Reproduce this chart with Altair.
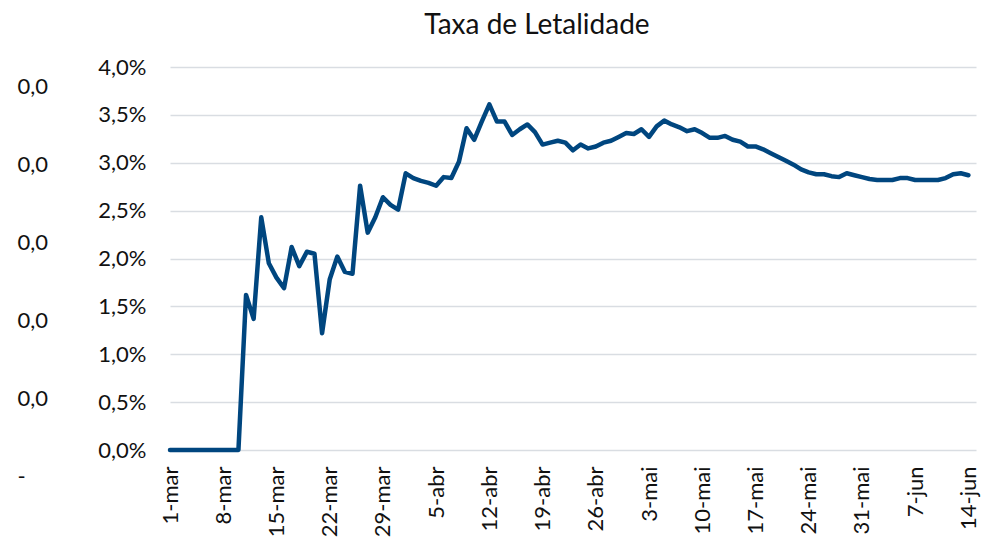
import altair as alt
import pandas as pd

# Daily data, 1-mar .. 14-jun
month_pt = {3: "mar", 4: "abr", 5: "mai", 6: "jun"}
dates = pd.date_range("2020-03-01", "2020-06-14", freq="D")
day_labels = [f"{d.day}-{month_pt[d.month]}" for d in dates]

letalidade = [
    0, 0, 0, 0, 0, 0, 0, 0, 0, 0,
    1.62, 1.37, 2.43, 1.95, 1.80, 1.69, 2.12, 1.92, 2.07, 2.05,
    1.22, 1.78, 2.02, 1.86, 1.84, 2.76, 2.27, 2.43, 2.64, 2.56,
    2.51, 2.89, 2.84, 2.81, 2.79, 2.76, 2.85, 2.84, 3.01, 3.36,
    3.24, 3.43, 3.61, 3.43, 3.43, 3.29, 3.35, 3.40, 3.32, 3.19,
    3.21, 3.23, 3.21, 3.13, 3.19, 3.15, 3.17, 3.21, 3.23, 3.27,
    3.31, 3.30, 3.35, 3.27, 3.38, 3.44, 3.40, 3.37, 3.33, 3.35,
    3.31, 3.26, 3.26, 3.28, 3.24, 3.22, 3.17, 3.17, 3.14, 3.10,
    3.06, 3.02, 2.98, 2.93, 2.90, 2.88, 2.88, 2.86, 2.85, 2.89,
    2.87, 2.85, 2.83, 2.82, 2.82, 2.82, 2.84, 2.84, 2.82, 2.82,
    2.82, 2.82, 2.84, 2.88, 2.89, 2.87,
]

tick_days = list(range(0, 106, 7))
tick_labels = [day_labels[i] for i in tick_days]
y_ticks = [0, 0.5, 1.0, 1.5, 2.0, 2.5, 3.0, 3.5, 4.0]
sec_ticks = [0, 1, 2, 3, 4, 5]

df = pd.DataFrame({"dia": list(range(len(letalidade))), "label": day_labels, "taxa": letalidade})
sec_df = pd.DataFrame({"sec": sec_ticks})

label_arr = "[" + ",".join(f"'{t}'" for t in tick_labels) + "]"
FONT = "Lato"
TXT = "#111111"

x_enc = alt.X(
    "dia:Q",
    scale=alt.Scale(domain=[0, 106], nice=False, zero=False),
    axis=alt.Axis(
        values=tick_days,
        labelExpr=f"{label_arr}[round(datum.value/7)]",
        labelAngle=270,
        labelAlign="right",
        labelBaseline="middle",
        labelPadding=16,
        ticks=False,
        tickSize=0,
        domain=False,
        grid=False,
        title=None,
        labelFont=FONT,
        labelFontSize=22,
        labelColor=TXT,
        labelOverlap=False,
    ),
)

line = alt.Chart(df).mark_line(
    color="#00467F", strokeWidth=4.5, strokeJoin="round", strokeCap="round"
).encode(
    x=x_enc,
    y=alt.Y(
        "taxa:Q",
        scale=alt.Scale(domain=[0, 4], nice=False),
        axis=alt.Axis(
            values=y_ticks,
            labelExpr="replace(format(datum.value,'.1f'),'.',',') + '%'",
            orient="left",
            ticks=False,
            tickSize=0,
            domain=False,
            grid=True,
            gridColor="#D9DDE2",
            gridWidth=1.5,
            labelPadding=24,
            title=None,
            labelFont=FONT,
            labelFontSize=22,
            labelColor=TXT,
            labelBaseline="middle",
        ),
    ),
)

sec = alt.Chart(sec_df).mark_rule(opacity=0).encode(
    y=alt.Y(
        "sec:Q",
        scale=alt.Scale(domain=[0, 5], range=[409, 19], nice=False),
        axis=alt.Axis(
            values=sec_ticks,
            labelExpr="datum.value == 0 ? '-' : '0,0'",
            orient="left",
            ticks=False,
            tickSize=0,
            domain=False,
            grid=False,
            labelAlign="left",
            labelBaseline="middle",
            labelPadding=153,
            title=None,
            labelFont=FONT,
            labelFontSize=22,
            labelColor=TXT,
        ),
    )
)

chart = alt.layer(sec, line).resolve_scale(y="independent").properties(
    width=806,
    height=383,
    autosize=alt.AutoSizeParams(type="none"),
    padding={"left": 162, "top": 59, "right": 10, "bottom": 90},
    title=alt.TitleParams(
        "Taxa de Letalidade",
        font=FONT,
        fontSize=28,
        fontWeight="normal",
        color=TXT,
        anchor="middle",
        frame="group",
        dx=-36,
        offset=16,
    ),
).configure_view(stroke=None)

chart.save("out.html", embed_options={"renderer": "svg", "actions": False})
